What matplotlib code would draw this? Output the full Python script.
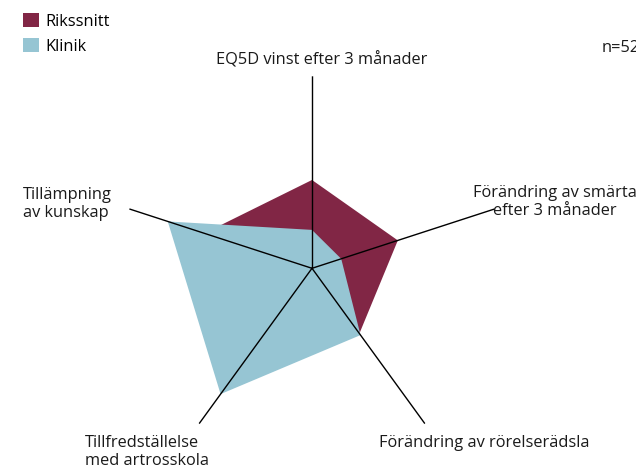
import numpy as np
import matplotlib
matplotlib.use("Agg")
import matplotlib.pyplot as plt

plt.rcParams['font.family'] = ['Open Sans', 'DejaVu Sans']

# data (axis length = 100)
categories = ["EQ5D vinst efter 3 månader",
              "Förändring av smärta\nefter 3 månader",
              "Förändring av rörelserädsla",
              "Tillfredställelse\nmed artrosskola",
              "Tillämpning\nav kunskap"]
rikssnitt = [46, 47, 42, 35, 59]
klinik = [20, 16, 43, 81, 79]
n_text = "n=52"

RED = "#812645"
BLUE = "#96C5D3"
W, H = 636, 472


def fx(x, y):
    # pixel position -> figure fraction
    return x / W, 1 - y / H


fig = plt.figure(figsize=(W / 100, H / 100), dpi=100)

cx, cy, R = 312, 268.3, 192
ax = fig.add_axes([(cx - R) / W, (H - cy - R) / H, 2 * R / W, 2 * R / H], projection='polar')
ax.set_theta_offset(np.pi / 2)
ax.set_theta_direction(-1)
ax.set_ylim(0, 100)
ax.grid(False)
ax.set_xticks([])
ax.set_yticks([])
ax.spines['polar'].set_visible(False)
ax.patch.set_alpha(0)

theta = np.linspace(0, 2 * np.pi, len(categories), endpoint=False)
th = np.append(theta, theta[0])

ax.fill(th, rikssnitt + rikssnitt[:1], color=RED, lw=0, label="Rikssnitt", zorder=2)
ax.fill(th, klinik + klinik[:1], color=BLUE, lw=0, label="Klinik", zorder=3)
for t in theta:
    ax.plot([t, t], [0, 100], color="black", lw=1.0, zorder=4)

fs = 11.8
tc = "#1a1a1a"
ax.legend(loc="upper left", bbox_to_anchor=fx(23, 13), bbox_transform=fig.transFigure,
          frameon=False, fontsize=fs, handlelength=0.98, handleheight=0.98,
          handletextpad=0.4, labelspacing=0.5, borderaxespad=0, borderpad=0)

fig.text(*fx(322, 60), categories[0], ha="center", va="center", fontsize=fs, color=tc)
fig.text(*fx(473, 202), categories[1], ha="left", va="center", fontsize=fs, color=tc,
         multialignment="center", linespacing=1.2)
fig.text(*fx(379, 443), categories[2], ha="left", va="center", fontsize=fs, color=tc)
fig.text(*fx(85, 452), categories[3], ha="left", va="center", fontsize=fs, color=tc,
         linespacing=1.2)
fig.text(*fx(23, 204), categories[4], ha="left", va="center", fontsize=fs, color=tc,
         linespacing=1.2)
fig.text(*fx(602, 48), n_text, ha="left", va="center", fontsize=fs, color=tc)

fig.savefig("out.png", dpi=100)
